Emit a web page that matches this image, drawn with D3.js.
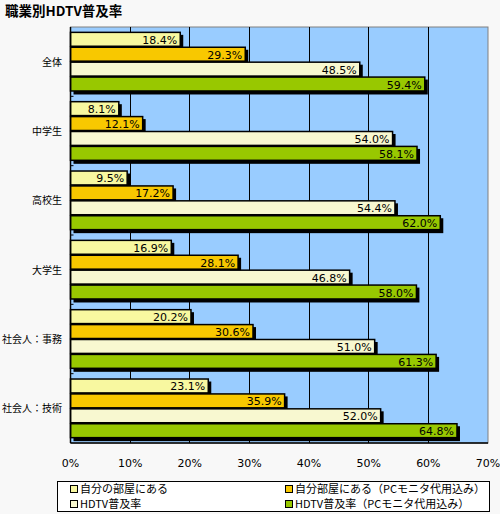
<!DOCTYPE html>
<html><head><meta charset="utf-8">
<script src="https://cdn.jsdelivr.net/npm/d3@7"></script>
<style>
html,body{margin:0;padding:0;background:#f8f8f8;}
svg{display:block;font-family:"Noto Sans CJK JP","DejaVu Sans",sans-serif;}
</style></head><body>
<svg id="c" width="500" height="514"></svg>
<script>
const title = "職業別HDTV普及率";
const categories = ["全体","中学生","高校生","大学生","社会人：事務","社会人：技術"];
const seriesNames = ["自分の部屋にある","自分部屋にある（PCモニタ代用込み）","HDTV普及率","HDTV普及率（PCモニタ代用込み）"];
const seriesColors = ["#f8f8a0","#f8c800","#f8f8d0","#98c800"];
const ownRoom      = [18.4, 8.1, 9.5,16.9,20.2,23.1];
const ownRoomPC    = [29.3,12.1,17.2,28.1,30.6,35.9];
const hdtvRate     = [48.5,54.0,54.4,46.8,51.0,52.0];
const hdtvRatePC   = [59.4,58.1,62.0,58.0,61.3,64.8];
const xTicks = [0,10,20,30,40,50,60,70];
const series = [ownRoom, ownRoomPC, hdtvRate, hdtvRatePC];

const svg = d3.select("#c");
const L = 70.5, R = 488, T = 27, B = 443;

svg.append("text").attr("x",5).attr("y",16).attr("font-size",13.5).attr("font-weight","bold")
  .attr("fill","#000").text(title);

const x = d3.scaleLinear().domain([0,70]).range([L,R]);
const y = d3.scaleBand().domain(categories).range([T,B]).paddingInner(0.14).paddingOuter(0.07);
const yi = d3.scaleBand().domain(d3.range(4)).range([0,y.bandwidth()]);

// plot background
svg.append("rect").attr("x",L).attr("y",T).attr("width",R-L).attr("height",B-T)
  .attr("fill","#99ccff").attr("stroke","#808080").attr("stroke-width",1);

// grid lines
svg.append("g").selectAll("line").data(xTicks.slice(1,-1)).join("line")
  .attr("x1",d=>x(d)).attr("x2",d=>x(d)).attr("y1",T).attr("y2",B)
  .attr("stroke","#000").attr("stroke-width",1).attr("shape-rendering","crispEdges");

// bars
const rows = [];
categories.forEach((c,ci)=>series.forEach((s,si)=>rows.push({c,si,v:s[ci]})));
const g = svg.append("g");
g.selectAll("rect.sh").data(rows).join("rect").attr("class","sh")
  .attr("x",x(0)+3).attr("y",d=>y(d.c)+yi(d.si)+3)
  .attr("width",d=>x(d.v)-x(0)).attr("height",d=>yi.bandwidth())
  .attr("fill","#000");
g.selectAll("rect.b").data(rows).join("rect").attr("class","b")
  .attr("x",x(0)).attr("y",d=>y(d.c)+yi(d.si)+0.5)
  .attr("width",d=>x(d.v)-x(0)).attr("height",d=>yi.bandwidth()-1)
  .attr("fill",d=>seriesColors[d.si]).attr("stroke","#000").attr("stroke-width",1.5);
g.selectAll("text.v").data(rows).join("text").attr("class","v")
  .attr("x",d=>x(d.v)-3).attr("y",d=>y(d.c)+yi(d.si)+yi.bandwidth()/2+4.5)
  .attr("text-anchor","end").attr("font-size",11).attr("font-family","DejaVu Sans").attr("fill","#000")
  .text(d=>d.v.toFixed(1)+"%");

// axes lines
svg.append("line").attr("x1",L).attr("x2",L).attr("y1",T).attr("y2",B).attr("stroke","#000").attr("stroke-width",1.5);
svg.append("line").attr("x1",L).attr("x2",R).attr("y1",B).attr("y2",B).attr("stroke","#000").attr("stroke-width",1.5);
// category ticks at band boundaries
const bounds = categories.slice(1).map(c=>y(c)-y.step()*y.paddingInner()/2);
svg.append("g").selectAll("line").data(bounds).join("line")
  .attr("x1",L).attr("x2",L+3).attr("y1",d=>d).attr("y2",d=>d).attr("stroke","#000");

// category labels
svg.append("g").selectAll("text").data(categories).join("text")
  .attr("x",62).attr("y",d=>y(d)+y.bandwidth()/2+4).attr("text-anchor","end")
  .attr("font-size",10).attr("fill","#000").text(d=>d);

// x tick labels
svg.append("g").selectAll("text").data(xTicks).join("text")
  .attr("x",d=>x(d)).attr("y",467).attr("text-anchor","middle")
  .attr("font-size",11).attr("font-family","DejaVu Sans").attr("fill","#000").text(d=>d+"%");

// legend
svg.append("rect").attr("x",57.5).attr("y",481.5).attr("width",432).attr("height",30)
  .attr("fill","#fff").attr("stroke","#000");
const legPos = [[74,489],[289,489],[74,504],[289,504]];
const lg = svg.append("g").selectAll("g").data(seriesNames).join("g")
  .attr("transform",(d,i)=>`translate(${legPos[i][0]},${legPos[i][1]})`);
lg.append("rect").attr("x",-3.5).attr("y",-3.5).attr("width",7).attr("height",7)
  .attr("fill",(d,i)=>seriesColors[i]).attr("stroke","#000");
lg.append("text").attr("x",6).attr("y",4).attr("font-size",11).attr("fill","#000").text(d=>d);
</script>
</body></html>
